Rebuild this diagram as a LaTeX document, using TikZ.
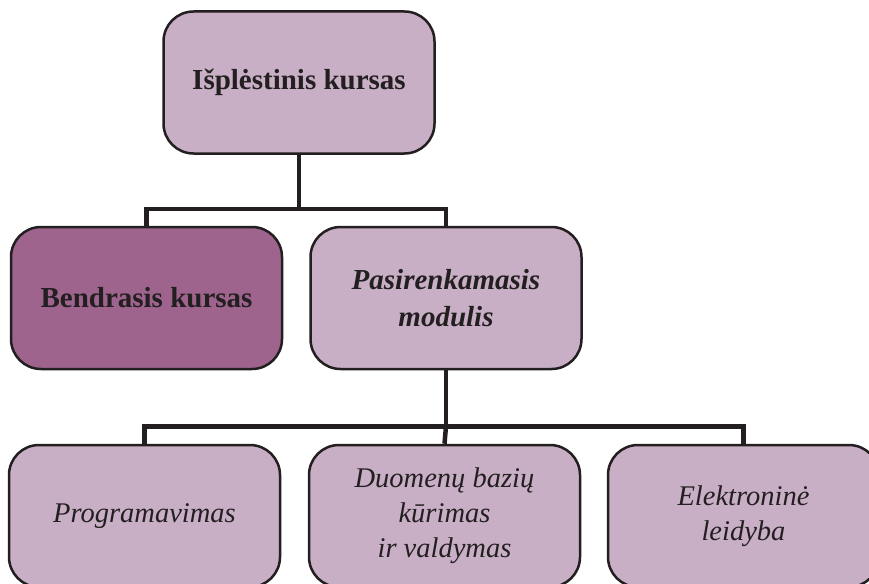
\documentclass[tikz,border=0pt]{standalone}
\usepackage{fontspec}
\setmainfont{Liberation Serif}
\usetikzlibrary{positioning}
\definecolor{lilac}{HTML}{C9AFC6}
\definecolor{plum}{HTML}{9E648E}
\definecolor{ink}{HTML}{231F20}

\begin{document}
\begin{tikzpicture}[x=1pt,y=-1pt]
\tikzstyle{box} = [draw=ink, line width=2.5pt, rounded corners=30pt, fill=lilac, text=ink, minimum width=271pt, minimum height=142pt, inner sep=0pt, align=center]
\tikzstyle{head} = [font=\fontsize{29}{37}\selectfont\bfseries]
\tikzstyle{leaf} = [font=\fontsize{28.5}{35}\selectfont\itshape]
\tikzstyle{link} = [draw=ink, line width=4.5pt]
\useasboundingbox (0,0) rectangle (869,583);
\path
(299,82.5) node [box,head] (top) {Išplėstinis kursas}
(146.5,298) node [box,head,fill=plum] (bend) {Bendrasis kursas}
(446,298) node [box,head] (pick) {\itshape Pasirenkamasis\\\itshape modulis}
(144.5,516) node [box,leaf] (prog) {Programavimas}
(444.5,516) node [box,leaf] (base) {Duomenų bazių\\kūrimas\\ir valdymas}
(743.5,516) node [box,leaf] (elek) {Elektroninė\\leidyba};
\draw[link] (top.south) -- ++(0,54) coordinate (fork1);
\draw[link] (bend.north) |- (fork1) -| (pick.north);
\draw[link] (pick.south) -- ++(0,56) coordinate (fork2);
\draw[link] (prog.north) |- (fork2) -| (elek.north);
\draw[link] (fork2) -- (base.north);
\end{tikzpicture}
\end{document}
